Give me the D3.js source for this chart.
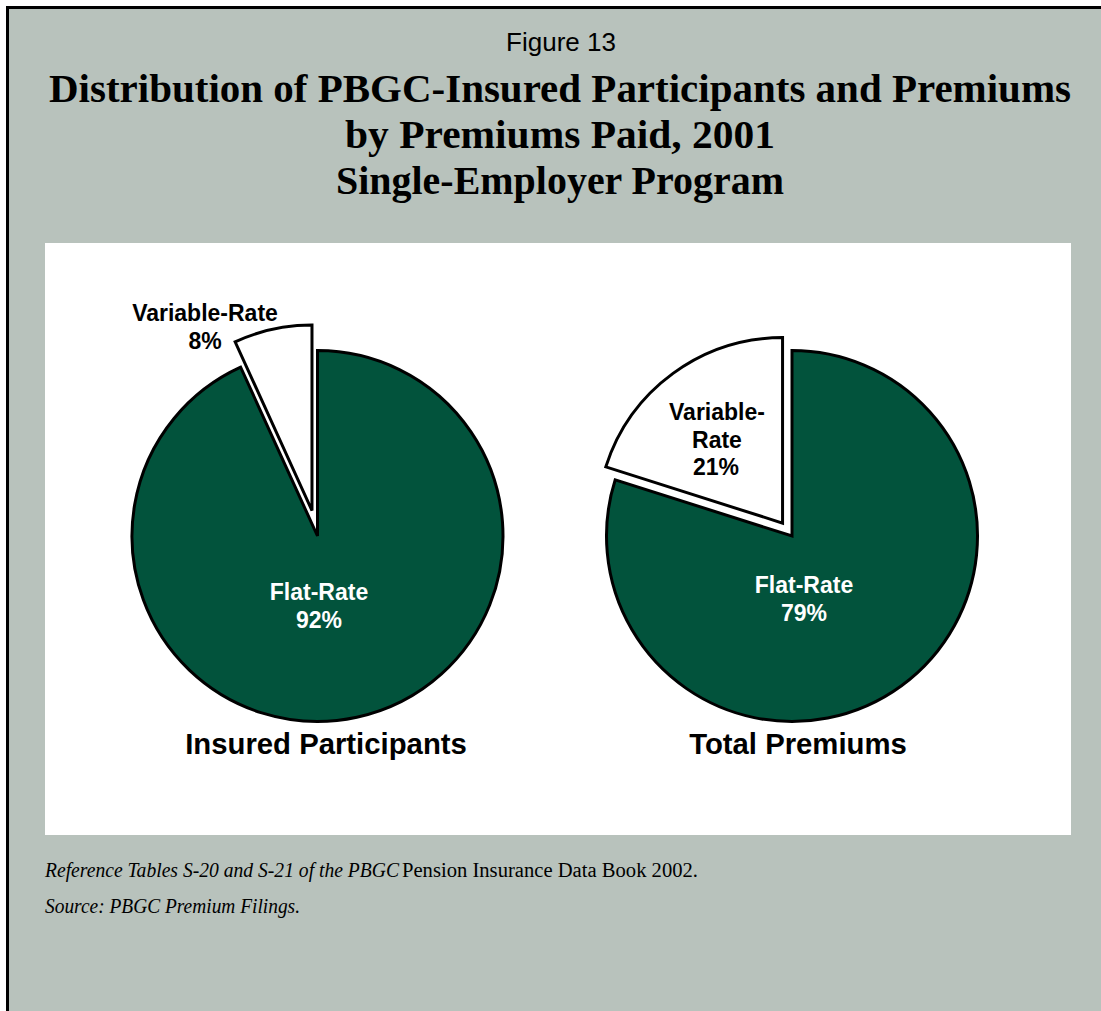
<!DOCTYPE html>
<html><head><meta charset="utf-8">
<script src="https://cdn.jsdelivr.net/npm/d3@7"></script>
<style>html,body{margin:0;padding:0;background:#fff}svg{display:block}</style>
</head><body>
<script>
const categories = ["Flat-Rate", "Variable-Rate"];
// shares as labelled in the figure
const participantsLabels = [92, 8];
const premiumsLabels = [79, 21];
// slice sizes as drawn in the figure
const participantsSlices = [93.2, 6.8];
const premiumsSlices = [79.9, 20.1];
const chartTitles = ["Insured Participants", "Total Premiums"];
const figureLabel = "Figure 13";
const titleLines = ["Distribution of PBGC-Insured Participants and Premiums", "by Premiums Paid, 2001", "Single-Employer Program"];

const W = 1101, H = 1011;
const svg = d3.select("body").append("svg").attr("width", W).attr("height", H);
const BG = "#b8c2bc", GREEN = "#02533c";

svg.append("rect").attr("x", 0).attr("y", 0).attr("width", W).attr("height", H).attr("fill", "#fff");
svg.append("rect").attr("x", 8).attr("y", 8).attr("width", W - 8).attr("height", H - 8).attr("fill", BG);
svg.append("line").attr("x1", 6).attr("x2", W).attr("y1", 7.5).attr("y2", 7.5).attr("stroke", "#000").attr("stroke-width", 3);
svg.append("line").attr("x1", 7.5).attr("x2", 7.5).attr("y1", 6).attr("y2", H).attr("stroke", "#000").attr("stroke-width", 3);

svg.append("text").attr("x", 561).attr("y", 51).attr("text-anchor", "middle")
  .attr("font-family", "Liberation Sans, Arial, sans-serif").attr("font-size", 26).attr("fill", "#000").text(figureLabel);

const tl = [102, 148, 194];
const tlen = [1022, 430, 448];
titleLines.forEach((t, i) => {
  svg.append("text").attr("x", 560).attr("y", tl[i]).attr("text-anchor", "middle")
    .attr("font-family", "Liberation Serif, Times New Roman, serif").attr("font-weight", "bold")
    .attr("font-size", 40.5).attr("fill", "#000")
    .attr("textLength", tlen[i]).attr("lengthAdjust", "spacingAndGlyphs").text(t);
});

// white panel
svg.append("rect").attr("x", 45).attr("y", 243).attr("width", 1026).attr("height", 592).attr("fill", "#fff");

const pie = d3.pie().sort(null).startAngle(0).endAngle(2 * Math.PI);
const R = 185.5;
const arc = d3.arc().innerRadius(0).outerRadius(R);

function drawPie(cx, cy, values, explode, title, titleX, labels) {
  const g = svg.append("g").attr("transform", `translate(${cx},${cy})`);
  const arcs = pie(values);
  arcs.forEach((a, i) => {
    const mid = (a.startAngle + a.endAngle) / 2;
    const d = i === 1 ? explode : 0;
    g.append("path").attr("d", arc(a))
      .attr("transform", `translate(${Math.sin(mid) * d},${-Math.cos(mid) * d})`)
      .attr("fill", i === 0 ? GREEN : "#fff")
      .attr("stroke", "#000").attr("stroke-width", 3).attr("stroke-linejoin", "miter");
  });
  labels.forEach(l => {
    svg.append("text").attr("x", l.x).attr("y", l.y).attr("text-anchor", "middle")
      .attr("font-family", "Liberation Sans, Arial, sans-serif").attr("font-weight", "bold")
      .attr("font-size", 23).attr("fill", l.c).text(l.t);
  });
  svg.append("text").attr("x", titleX).attr("y", 754).attr("text-anchor", "middle")
    .attr("font-family", "Liberation Sans, Arial, sans-serif").attr("font-weight", "bold")
    .attr("font-size", 29.3).attr("fill", "#000").text(title);
}

drawPie(317.5, 536, participantsSlices, 26, chartTitles[0], 326, [
  {t: categories[1], x: 205, y: 321, c: "#000"},
  {t: participantsLabels[1] + "%", x: 205, y: 349, c: "#000"},
  {t: categories[0], x: 319, y: 600, c: "#fff"},
  {t: participantsLabels[0] + "%", x: 319, y: 628, c: "#fff"}
]);
drawPie(792, 536, premiumsSlices, 16, chartTitles[1], 798, [
  {t: "Variable-", x: 717, y: 420, c: "#000"},
  {t: "Rate", x: 717, y: 448, c: "#000"},
  {t: premiumsLabels[1] + "%", x: 716, y: 475, c: "#000"},
  {t: categories[0], x: 804, y: 593, c: "#fff"},
  {t: premiumsLabels[0] + "%", x: 804, y: 621, c: "#fff"}
]);

// footnotes
const ff = "Liberation Serif, Times New Roman, serif";
svg.append("text").attr("x", 45).attr("y", 877).attr("font-family", ff).attr("font-style", "italic")
  .attr("font-size", 20).attr("fill", "#000").attr("textLength", 354).attr("lengthAdjust", "spacingAndGlyphs")
  .text("Reference Tables S-20 and S-21 of the PBGC");
svg.append("text").attr("x", 402).attr("y", 877).attr("font-family", ff)
  .attr("font-size", 20).attr("fill", "#000").attr("textLength", 296).attr("lengthAdjust", "spacingAndGlyphs")
  .text("Pension Insurance Data Book 2002.");
svg.append("text").attr("x", 45).attr("y", 913).attr("font-family", ff).attr("font-style", "italic")
  .attr("font-size", 20).attr("fill", "#000").attr("textLength", 255).attr("lengthAdjust", "spacingAndGlyphs")
  .text("Source: PBGC Premium Filings.");
</script>
</body></html>
